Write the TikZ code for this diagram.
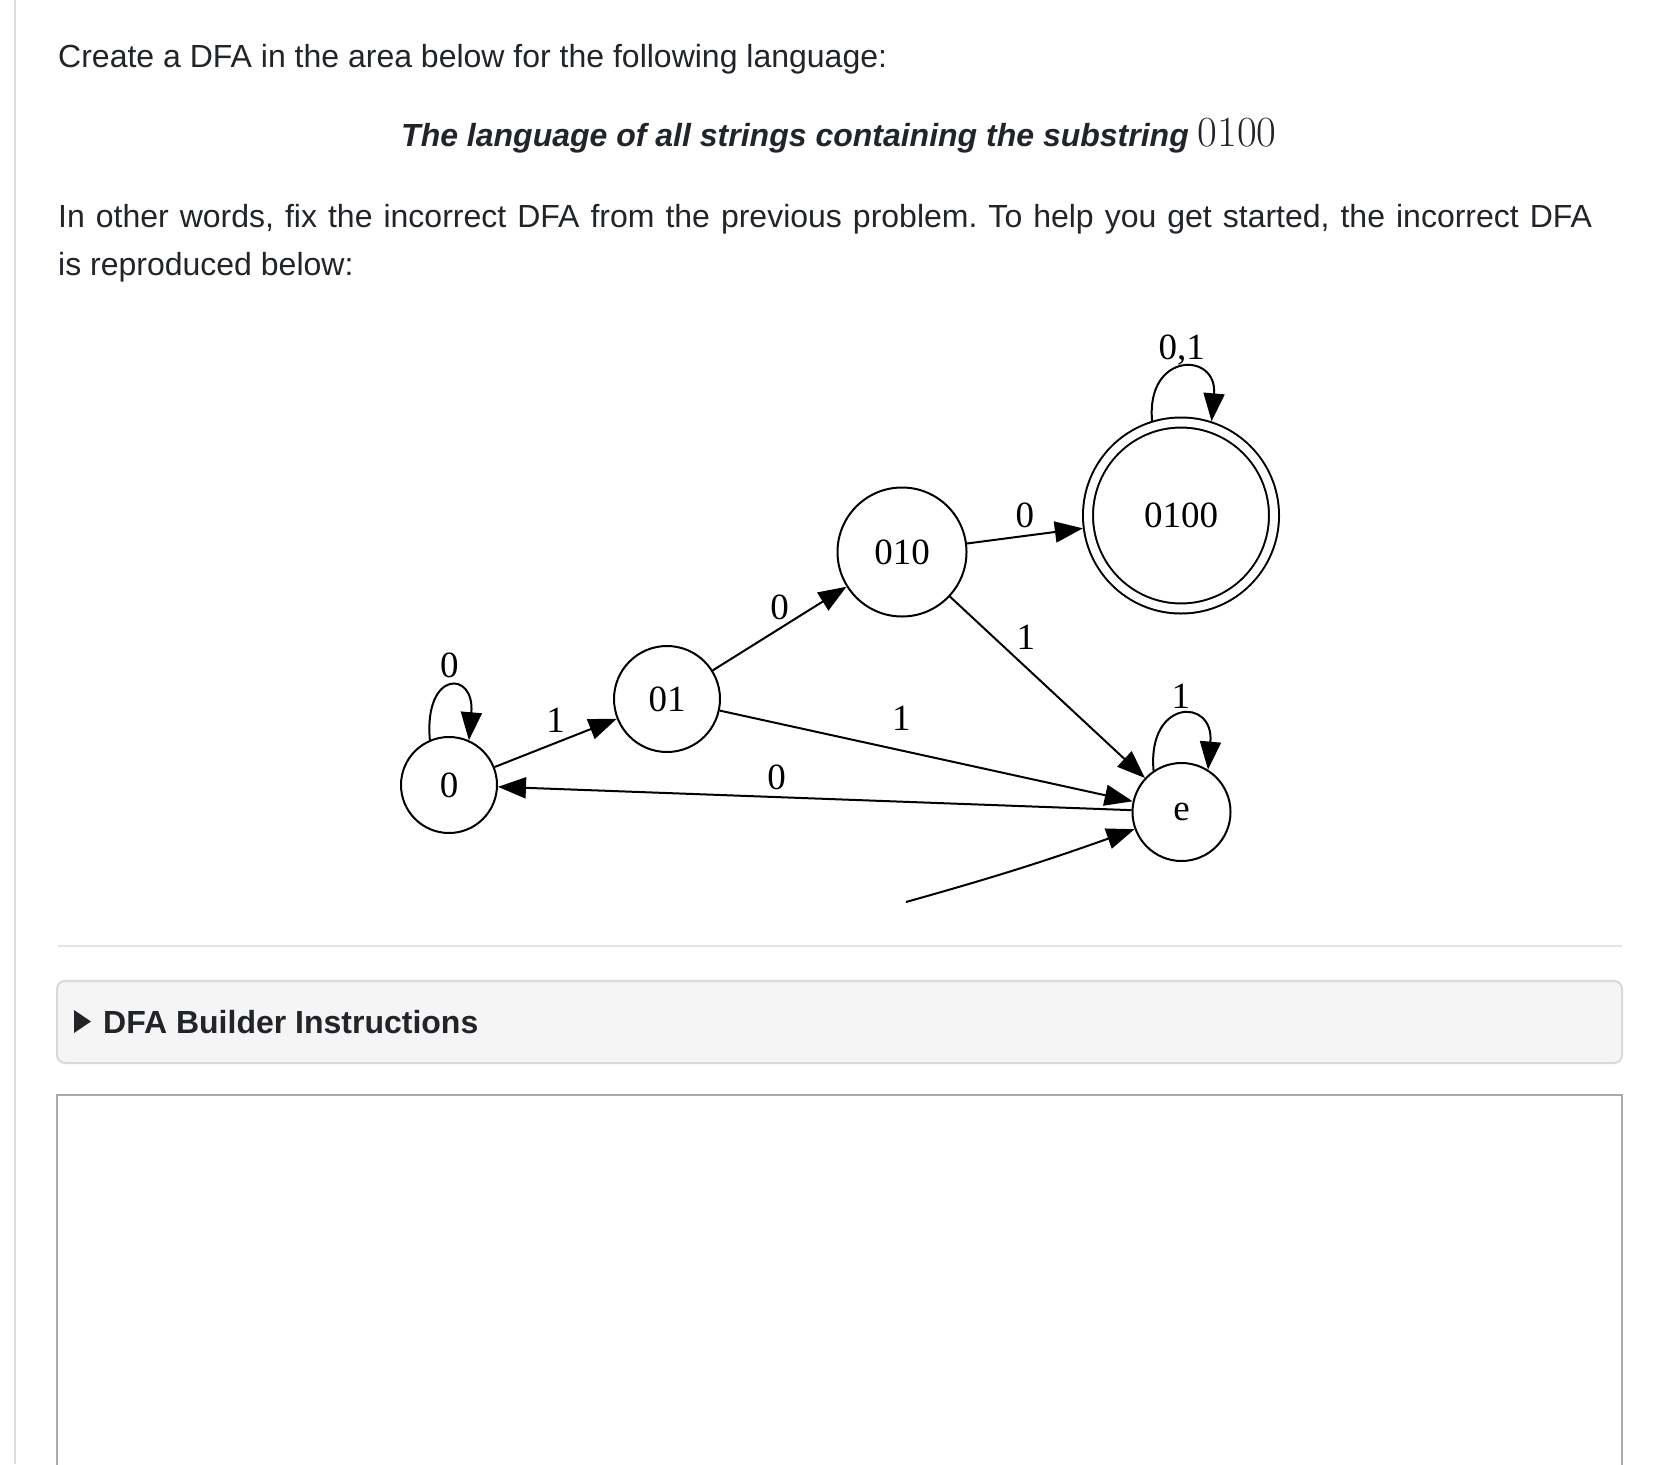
\documentclass[tikz,border=0pt]{standalone}
\usepackage{fontspec}
\setmainfont{Liberation Sans}
\newfontfamily\dfafont{Liberation Serif}
\newfontfamily\lmroman{Latin Modern Roman}
\usetikzlibrary{arrows.meta}
\definecolor{ink}{HTML}{212529}
\definecolor{rulegray}{HTML}{E3E3E3}
\definecolor{sidegray}{HTML}{DDDDDD}
\definecolor{boxgray}{HTML}{F5F5F5}
\definecolor{boxline}{HTML}{D9D9D9}
\definecolor{areagray}{HTML}{ABABAB}
\newcommand{\pagetext}{\fontsize{32}{38}\selectfont}
\newcommand{\dfasize}{\dfafont\fontsize{37}{44}\selectfont}

\begin{document}
\begin{tikzpicture}[x=1pt, y=1pt,
        prose/.style={anchor=base west, text=ink, inner xsep=0pt, font=\pagetext},
        state/.style={circle, draw, line width=2pt, inner sep=0pt, font=\dfasize},
        accept/.style={state, double, double distance=8pt, outer sep=6pt},
        lbl/.style={inner sep=0pt, text depth=0pt, font=\dfasize},
        >={Triangle[length=28pt, width=21pt]}]
    \useasboundingbox (0,0) rectangle (1654,-1464);
    \fill[white] (0,0) rectangle (1654,-1464);
    \draw[sidegray, line width=2pt] (15,0) -- (15,-1464);

    % question text
    \node[prose] (intro) at (58,-67) {Create a DFA in the area below for the following language:};
    \node[prose, font=\pagetext\bfseries\itshape] (lang) at (401,-146) {The language of all strings containing the substring {\lmroman\fontsize{43}{45}\selectfont\mdseries\upshape 0100}};
    \node[prose] (fix) at (58,-227) {\frenchspacing\makebox[1534pt][s]{In other words, fix the incorrect DFA from the previous problem. To help you get started, the incorrect DFA}};
    \node[prose] (below) at (58,-275) {is reproduced below:};

    % the incorrect DFA
    \node[state, minimum size=96pt] (q0) at (449,-785) {0};
    \node[state, minimum size=106pt] (q01) at (667,-699) {01};
    \node[state, minimum size=129pt] (q010) at (902,-552) {010};
    \node[accept, minimum size=186pt] (q0100) at (1181,-515.5) {0100};
    \node[state, minimum size=98pt] (qe) at (1181.5,-812) {e};
    \coordinate (init) at (906,-902);

    \draw[->, line width=2pt] (q0.113) to[out=95, in=85, looseness=4.6] node[lbl, yshift=22pt] {0} (q0.66);
    \draw[->, line width=2pt] (q0) -- node[lbl, yshift=23pt] {1} (q01);
    \draw[->, line width=2pt] (q01) -- node[lbl, yshift=21pt] {0} (q010);
    \draw[->, line width=2pt] (q01) -- node[lbl, pos=0.44, yshift=32pt] {1} (qe);
    \draw[->, line width=2pt] (qe) -- node[lbl, pos=0.56, yshift=20pt] {0} (q0);
    \draw[->, line width=2pt] (q010) -- node[lbl, yshift=21pt] {0} (q0100);
    \draw[->, line width=2pt] (q010) -- node[lbl, pos=0.39, yshift=30pt] {1} (qe);
    \draw[->, line width=2pt] (q0100.107) to[out=95, in=85, looseness=3.0] node[lbl, yshift=22pt] {0,1} (q0100.72);
    \draw[->, line width=2pt] (qe.124) to[out=95, in=85, looseness=3.4] node[lbl, yshift=20pt] {1} (qe.58);
    \draw[->, line width=2pt] (init) to[bend right=2] (qe);

    % builder area
    \draw[rulegray, line width=2pt] (58,-946) -- (1622,-946);
    \draw[boxline, fill=boxgray, line width=2pt, rounded corners=8pt] (57,-981) rectangle (1622,-1063);
    \fill[ink] (74,-1010) -- (91,-1021.5) -- (74,-1033) -- cycle;
    \node[prose, font=\pagetext\bfseries] (howto) at (103,-1033) {DFA Builder Instructions};
    \draw[areagray, line width=2.5pt] (57,-1470) |- (1622,-1095) -- (1622,-1470);
\end{tikzpicture}
\end{document}
